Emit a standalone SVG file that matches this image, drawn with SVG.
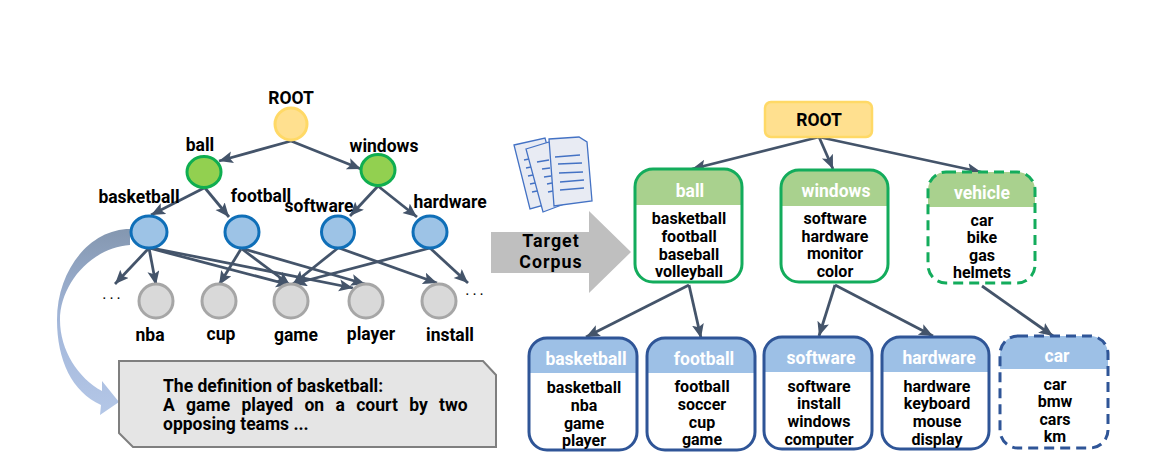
<svg xmlns="http://www.w3.org/2000/svg" width="1171" height="476" viewBox="0 0 1171 476">
<style>
text{font-family:Roboto,"Open Sans","Liberation Sans",sans-serif;font-weight:700;font-size:16px;fill:#000;text-anchor:middle}
.hd{fill:#fff;font-size:17.5px}
.t{font-size:17.5px}
.c{fill:none;stroke:#44546a;stroke-width:2.8;marker-end:url(#a)}
.blue{fill:#9dc3e6;stroke:#0f6fb8;stroke-width:3}
.green{fill:#92d050;stroke:#0fae50;stroke-width:3}
.gray{fill:#d9d9d9;stroke:#a6a6a6;stroke-width:3}
.bg{fill:#a9d18e}.bb{fill:#9dc0e6}
.bo{fill:none;stroke:#13ac5c;stroke-width:3}
.bl{fill:none;stroke:#2f5597;stroke-width:3}
.d{stroke-dasharray:10 6}
.pg{fill:#e8ebf3;stroke:#4472c4;stroke-width:1.3}
.ln{stroke:#4472c4;stroke-width:1.3;fill:none}
.dots{font-weight:400;letter-spacing:3px}
.l{text-anchor:start;font-size:17.5px}
.big{font-size:17.8px;letter-spacing:1px}
</style>
<defs>
<marker id="a" markerUnits="userSpaceOnUse" markerWidth="16" markerHeight="14" refX="14" refY="6" orient="auto"><path d="M0 0L14 6L0 12L3 6Z" fill="#44546a"/></marker>
<linearGradient id="g" gradientUnits="userSpaceOnUse" x1="0" y1="229" x2="0" y2="415"><stop offset="0" stop-color="#8497b0"/><stop offset=".5" stop-color="#a3b7da"/><stop offset="1" stop-color="#b4c7e7"/></linearGradient>
</defs>
<g id="curved-arrow"><path d="M130 229C90 229 57 270 57 320C57 360 72 392 101 405L100 415L119 402L102 381L102 391C78 378 60 350 60 320C60 285 90 248 130 245Z" fill="url(#g)"/></g>
<g id="connectors">
<path class="c" d="M291 141L219 161"/>
<path class="c" d="M291 141L361 169"/>
<path class="c" d="M204 188L151 215"/>
<path class="c" d="M205 188L229 217"/>
<path class="c" d="M378 186L350 216"/>
<path class="c" d="M378 186L417 217"/>
<path class="c" d="M149 248L115 284"/>
<path class="c" d="M149 248L156 285"/>
<path class="c" d="M149 248L290 285"/>
<path class="c" d="M152 248L353 288"/>
<path class="c" d="M241 249L219 285"/>
<path class="c" d="M242 249L290 285"/>
<path class="c" d="M244 249L365 284"/>
<path class="c" d="M338 248L293 284"/>
<path class="c" d="M339 248L437 283"/>
<path class="c" d="M430 248L293 284"/>
<path class="c" d="M430 248L468 283"/>
<path class="c" d="M819 137L692 169"/>
<path class="c" d="M819 137L833 169"/>
<path class="c" d="M819 137L981 172"/>
<path class="c" d="M689 285L586 337"/>
<path class="c" d="M689 285L701 338"/>
<path class="c" d="M835 285L819 336"/>
<path class="c" d="M835 285L933 336"/>
<path class="c" d="M982 286L1053 336"/>
</g>
<g id="t-root"><circle cx="291" cy="124" r="16" fill="#ffe08f" stroke="#ffd966" stroke-width="3"/><text class="t" x="291" y="104">ROOT</text></g>
<g id="t-ball"><ellipse cx="204" cy="172" rx="17" ry="15.5" class="green"/><text class="t" x="200" y="151">ball</text></g>
<g id="t-windows"><ellipse cx="378" cy="170" rx="17" ry="15.5" class="green"/><text class="t" x="384" y="152">windows</text></g>
<g id="t-basketball"><ellipse cx="149" cy="232" rx="18" ry="16" class="blue"/><text class="t" x="139" y="203">basketball</text></g>
<g id="t-football"><ellipse cx="242" cy="232" rx="17" ry="16" class="blue"/><text class="t" x="261" y="202">football</text></g>
<g id="t-software"><ellipse cx="338" cy="232" rx="16.5" ry="16" class="blue"/><text class="t" x="319" y="212">software</text></g>
<g id="t-hardware"><ellipse cx="430" cy="232" rx="17" ry="16" class="blue"/><text class="t" x="450" y="208">hardware</text></g>
<g id="t-nba"><circle cx="156" cy="301" r="17" class="gray"/><text class="t" x="150" y="341">nba</text></g>
<g id="t-cup"><circle cx="219" cy="301" r="17" class="gray"/><text class="t" x="221" y="340">cup</text></g>
<g id="t-game"><circle cx="291" cy="301" r="17" class="gray"/><text class="t" x="296" y="341">game</text></g>
<g id="t-player"><circle cx="366" cy="301" r="17" class="gray"/><text class="t" x="371" y="340">player</text></g>
<g id="t-install"><circle cx="439" cy="301" r="17" class="gray"/><text class="t" x="450" y="341">install</text></g>
<text class="dots" x="113" y="299">...</text>
<text class="dots" x="476" y="295">...</text>
<g id="definition"><path d="M119 361H483L496 375V447H133L119 433Z" fill="#e5e5e5" stroke="#7f7f7f" stroke-width="2"/>
<text class="l" x="163" y="392">The definition of basketball:</text>
<text class="l" x="163" y="411" style="word-spacing:7px">A game played on a court by two</text>
<text class="l" x="163" y="430">opposing teams ...</text></g>
<g id="documents">
<path class="pg" d="M514 145L545 138L562 200L530 209Z"/>
<path class="ln" d="M524 160L529 159M526 168L531 167M528 176L533 175M530 184L535 183M532 192L537 191"/>
<path class="pg" d="M526 149L549 142L575 200L543 212Z"/>
<path class="ln" d="M537 162L549 160M542 169L550 168M544 177L551 176M547 184L552 183M548 192L553 191"/>
<path class="pg" d="M549 139L579 137L587 142L592 201L554 206Z"/>
<path class="ln" d="M555 157L580 155M558 164L582 163M559 173L583 172M560 182L584 180M560 190L584 188"/>
</g>
<g id="target-corpus"><path d="M491 232H589V211L631 252L589 293V273H491Z" fill="#bfbfbf"/>
<text class="big" x="551" y="247">Target</text><text class="big" x="551" y="268">Corpus</text></g>
<g id="b-root"><rect x="765" y="102" width="107" height="35" rx="6" fill="#ffe08f" stroke="#ffd966" stroke-width="2.5"/><text class="t" x="819" y="126">ROOT</text></g>
<g id="b-ball"><path d="M635 205V187A18 18 0 0 1 653 169H724A18 18 0 0 1 742 187V205Z" class="bg"/><rect x="635" y="169" width="107" height="113" rx="18" class="bo"/><text class="hd" x="690" y="197">ball</text><text x="689" y="224">basketball</text><text x="689" y="242">football</text><text x="689" y="260">baseball</text><text x="689" y="277">volleyball</text></g>
<g id="b-windows"><path d="M781 206V188A18 18 0 0 1 799 170H870A18 18 0 0 1 888 188V206Z" class="bg"/><rect x="781" y="170" width="107" height="112" rx="18" class="bo"/><text class="hd" x="836" y="197">windows</text><text x="835" y="224">software</text><text x="835" y="242">hardware</text><text x="835" y="259">monitor</text><text x="835" y="277">color</text></g>
<g id="b-vehicle"><path d="M928 207V190A18 18 0 0 1 946 172H1017A18 18 0 0 1 1035 190V207Z" class="bg"/><rect x="928" y="172" width="107" height="111" rx="18" class="bo d"/><text class="hd" x="982" y="199">vehicle</text><text x="982" y="226">car</text><text x="982" y="243">bike</text><text x="982" y="261">gas</text><text x="982" y="278">helmets</text></g>
<g id="b-basketball"><path d="M529 373V356A18 18 0 0 1 547 338H619A18 18 0 0 1 637 356V373Z" class="bb"/><rect x="529" y="338" width="108" height="112" rx="18" class="bl"/><text class="hd" x="586" y="365">basketball</text><text x="584" y="393">basketball</text><text x="584" y="411">nba</text><text x="584" y="429">game</text><text x="584" y="446">player</text></g>
<g id="b-football"><path d="M647 373V356A18 18 0 0 1 665 338H737A18 18 0 0 1 755 356V373Z" class="bb"/><rect x="647" y="338" width="108" height="112" rx="18" class="bl"/><text class="hd" x="704" y="365">football</text><text x="702" y="392">football</text><text x="702" y="410">soccer</text><text x="702" y="428">cup</text><text x="702" y="445">game</text></g>
<g id="b-software"><path d="M764 372V355A18 18 0 0 1 782 337H854A18 18 0 0 1 872 355V372Z" class="bb"/><rect x="764" y="337" width="108" height="112" rx="18" class="bl"/><text class="hd" x="821" y="364">software</text><text x="819" y="392">software</text><text x="819" y="409">install</text><text x="819" y="427">windows</text><text x="819" y="445">computer</text></g>
<g id="b-hardware"><path d="M882 372V355A18 18 0 0 1 900 337H971A18 18 0 0 1 989 355V372Z" class="bb"/><rect x="882" y="337" width="107" height="112" rx="18" class="bl"/><text class="hd" x="939" y="364">hardware</text><text x="937" y="392">hardware</text><text x="937" y="409">keyboard</text><text x="937" y="427">mouse</text><text x="937" y="445">display</text></g>
<g id="b-car"><path d="M1000 369V354A18 18 0 0 1 1018 336H1090A18 18 0 0 1 1108 354V369Z" class="bb"/><rect x="1000" y="336" width="108" height="112" rx="18" class="bl d"/><text class="hd" x="1057" y="362">car</text><text x="1055" y="390">car</text><text x="1055" y="407">bmw</text><text x="1055" y="425">cars</text><text x="1055" y="442">km</text></g>
</svg>
